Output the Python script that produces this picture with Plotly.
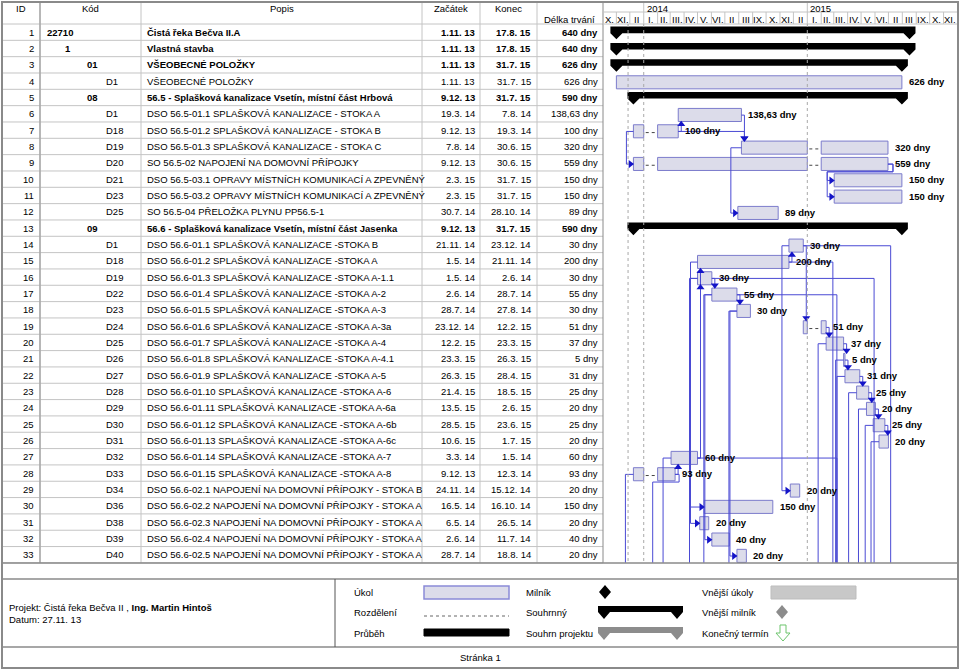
import pandas as pd
import plotly.graph_objects as go

W, H = 960, 669
ROW_PX = 16.33          # row pitch of the table
TOP_PX = 24             # bottom of the header
X0_PX, X1_PX = 602.5, 957
T0, T1 = pd.Timestamp('2013-10-01'), pd.Timestamp('2015-12-01')
DPP = (T1 - T0).days / (X1_PX - X0_PX)   # days per pixel on the gantt
FONT = 'Liberation Sans, Arial, sans-serif'
FS = 9.5

# ---- data ----
codes = ['22710', '1', '01', 'D1', '08', 'D1', 'D18', 'D19', 'D20', 'D21', 'D23', 'D25', '09',
         'D1', 'D18', 'D19', 'D22', 'D23', 'D24', 'D25', 'D26', 'D27', 'D28', 'D29', 'D30', 'D31',
         'D32', 'D33', 'D34', 'D36', 'D38', 'D39', 'D40']
levels = [0, 1, 2, 3, 2, 3, 3, 3, 3, 3, 3, 3, 2] + [3] * 20
names = [
    'Čistá řeka Bečva II.A',
    'Vlastná stavba',
    'VŠEOBECNÉ POLOŽKY',
    'VŠEOBECNÉ POLOŽKY',
    '56.5 - Splašková kanalizace Vsetín, místní část Hrbová',
    'DSO 56.5-01.1 SPLAŠKOVÁ KANALIZACE - STOKA A',
    'DSO 56.5-01.2 SPLAŠKOVÁ KANALIZACE - STOKA B',
    'DSO 56.5-01.3 SPLAŠKOVÁ KANALIZACE - STOKA C',
    'SO 56.5-02 NAPOJENÍ NA DOMOVNÍ PŘÍPOJKY',
    'DSO 56.5-03.1 OPRAVY MÍSTNÍCH KOMUNIKACÍ A ZPEVNĚNÝ',
    'DSO 56.5-03.2 OPRAVY MÍSTNÍCH KOMUNIKACÍ A ZPEVNĚNÝ',
    'SO 56.5-04 PŘELOŽKA PLYNU PP56.5-1',
    '56.6 - Splašková kanalizace Vsetín, místní část Jasenka',
    'DSO 56.6-01.1 SPLAŠKOVÁ KANALIZACE -STOKA B',
    'DSO 56.6-01.2 SPLAŠKOVÁ KANALIZACE -STOKA A',
    'DSO 56.6-01.3 SPLAŠKOVÁ KANALIZACE -STOKA A-1.1',
    'DSO 56.6-01.4 SPLAŠKOVÁ KANALIZACE -STOKA A-2',
    'DSO 56.6-01.5 SPLAŠKOVÁ KANALIZACE -STOKA A-3',
    'DSO 56.6-01.6 SPLAŠKOVÁ KANALIZACE -STOKA A-3a',
    'DSO 56.6-01.7 SPLAŠKOVÁ KANALIZACE -STOKA A-4',
    'DSO 56.6-01.8 SPLAŠKOVÁ KANALIZACE -STOKA A-4.1',
    'DSO 56.6-01.9 SPLAŠKOVÁ KANALIZACE -STOKA A-5',
    'DSO 56.6-01.10 SPLAŠKOVÁ KANALIZACE -STOKA A-6',
    'DSO 56.6-01.11 SPLAŠKOVÁ KANALIZACE -STOKA A-6a',
    'DSO 56.6-01.12 SPLAŠKOVÁ KANALIZACE -STOKA A-6b',
    'DSO 56.6-01.13 SPLAŠKOVÁ KANALIZACE -STOKA A-6c',
    'DSO 56.6-01.14 SPLAŠKOVÁ KANALIZACE -STOKA A-7',
    'DSO 56.6-01.15 SPLAŠKOVÁ KANALIZACE -STOKA A-8',
    'DSO 56.6-02.1 NAPOJENÍ NA DOMOVNÍ PŘÍPOJKY - STOKA B',
    'DSO 56.6-02.2 NAPOJENÍ NA DOMOVNÍ PŘÍPOJKY - STOKA A',
    'DSO 56.6-02.3 NAPOJENÍ NA DOMOVNÍ PŘÍPOJKY - STOKA A',
    'DSO 56.6-02.4 NAPOJENÍ NA DOMOVNÍ PŘÍPOJKY - STOKA A',
    'DSO 56.6-02.5 NAPOJENÍ NA DOMOVNÍ PŘÍPOJKY - STOKA A',
]
starts = ['1.11. 13', '1.11. 13', '1.11. 13', '1.11. 13', '9.12. 13', '19.3. 14', '9.12. 13', '7.8. 14',
          '9.12. 13', '2.3. 15', '2.3. 15', '30.7. 14', '9.12. 13', '21.11. 14', '1.5. 14', '1.5. 14',
          '2.6. 14', '28.7. 14', '23.12. 14', '12.2. 15', '23.3. 15', '26.3. 15', '21.4. 15', '13.5. 15',
          '28.5. 15', '10.6. 15', '3.3. 14', '9.12. 13', '24.11. 14', '16.5. 14', '6.5. 14', '2.6. 14',
          '28.7. 14']
ends = ['17.8. 15', '17.8. 15', '31.7. 15', '31.7. 15', '31.7. 15', '7.8. 14', '19.3. 14', '30.6. 15',
        '30.6. 15', '31.7. 15', '31.7. 15', '28.10. 14', '31.7. 15', '23.12. 14', '21.11. 14', '2.6. 14',
        '28.7. 14', '27.8. 14', '12.2. 15', '23.3. 15', '26.3. 15', '28.4. 15', '18.5. 15', '2.6. 15',
        '23.6. 15', '1.7. 15', '1.5. 14', '12.3. 14', '15.12. 14', '16.10. 14', '26.5. 14', '11.7. 14',
        '18.8. 14']
durations = ['640 dny', '640 dny', '626 dny', '626 dny', '590 dny', '138,63 dny', '100 dny', '320 dny',
             '559 dny', '150 dny', '150 dny', '89 dny', '590 dny', '30 dny', '200 dny', '30 dny', '55 dny',
             '30 dny', '51 dny', '37 dny', '5 dny', '31 dny', '25 dny', '20 dny', '25 dny', '20 dny',
             '60 dny', '93 dny', '20 dny', '150 dny', '20 dny', '40 dny', '20 dny']
summary_rows = [1, 2, 3, 5, 13]
# split tasks (winter break in January)
splits = {
    7: [('9.12. 13', '1.1. 14'), ('1.2. 14', '19.3. 14')],
    8: [('7.8. 14', '1.1. 15'), ('1.2. 15', '30.6. 15')],
    9: [('9.12. 13', '1.1. 14'), ('1.2. 14', '1.1. 15'), ('1.2. 15', '30.6. 15')],
    19: [('23.12. 14', '1.1. 15'), ('1.2. 15', '12.2. 15')],
    28: [('9.12. 13', '1.1. 14'), ('1.2. 14', '12.3. 14')],
}
# links: finish-start drawn straight, finish-start loop, start-start
fs_links = [(7, 6), (7, 8), (6, 8), (15, 14), (27, 15), (27, 16), (16, 17), (17, 18), (28, 27),
            (14, 19), (19, 20), (20, 21), (21, 22), (22, 23), (23, 24), (24, 25), (25, 26)]
fs_loop_links = [(9, 10), (9, 11)]
ss_links = [(7, 9), (8, 12), (14, 29), (15, 30), (16, 31), (17, 32), (18, 33)]
# links to tasks on the next page
ss_off_rows = [16, 17, 18, 20, 21, 22, 23, 24, 25, 26, 27, 28]
fs_off_links = [(14, '6.7. 15'), (15, '27.2. 15'), (16, '30.5. 15'), (17, '8.3. 15'), (27, '8.3. 15')]
fs_loop_off_links = [(28, '21.1. 14')]

month_labels = ['X.', 'XI.', 'II', 'I.', 'II.', 'III.', 'IV.', 'V.', 'VI.', 'II', 'III', 'IX.', 'X.',
                'XI.', 'II', 'I.', 'II.', 'III.', 'IV.', 'V.', 'VI.', 'II', 'III', 'IX.', 'X.', 'XI.']
years = ['2014', '2015']


def d(s):
    day, mon, yr = s.replace(' ', '').split('.')
    return pd.Timestamp(2000 + int(yr), int(mon), int(day))


def sh(t, p):
    return t + pd.Timedelta(days=p * DPP)


def iso(t):
    return t.strftime('%Y-%m-%d %H:%M')


def r_of(y):
    return (y - TOP_PX) / ROW_PX + 0.5


def PX(x):
    return x / W


def PY(y):
    return 1 - y / H


fig = go.Figure()
shapes = []
ann = []

TASK_FILL, TASK_LINE = '#dcdcea', '#7c7ccc'
LINK, ARROW = '#4a4ad4', '#1414c8'
GRID, FRAME = '#c4c4c4', '#8a8a8a'


def text(x, y, s, anchor='left', size=FS, bold=False, xref='paper', yref='y', yanchor='middle',
         xshift=0, color='black'):
    ann.append(dict(x=x, y=y, xref=xref, yref=yref, text=f'<b>{s}</b>' if bold else s, showarrow=False,
                    xanchor=anchor, yanchor=yanchor, xshift=xshift,
                    font=dict(family=FONT, size=size, color=color)))


def hline(x0, x1, y, color=GRID, width=1, yref='y'):
    shapes.append(dict(type='line', xref='paper', yref=yref, x0=PX(x0), x1=PX(x1), y0=y, y1=y,
                       line=dict(color=color, width=width)))


def vline(x, y0, y1, color=GRID, width=1, yref='y'):
    shapes.append(dict(type='line', xref='paper', yref=yref, x0=PX(x), x1=PX(x), y0=y0, y1=y1,
                       line=dict(color=color, width=width)))


# ---- table ----
n = len(names)
col_x = [2, 40, 141, 422, 480, 537, 603]
top = r_of(2)
bottom = n + 0.5
for k in range(n + 1):
    hline(2, 603, k + 0.5)
for x in col_x[1:-1]:
    vline(x, top, bottom)
vline(40, top, bottom, color='#a8a8a8', width=1.5)
vline(603, top, bottom, color=FRAME)

text(PX(21), r_of(8), 'ID', anchor='center')
text(PX(90), r_of(8), 'Kód', anchor='center')
text(PX(282), r_of(8), 'Popis', anchor='center')
text(PX(451), r_of(8), 'Začátek', anchor='center')
text(PX(508), r_of(8), 'Konec', anchor='center')
text(PX(569), r_of(19), 'Délka trvání', anchor='center')

code_x = {0: 45, 1: 63, 2: 85, 3: 104}
for i in range(n):
    r = i + 1
    b = r in summary_rows
    text(PX(36), r, str(r), anchor='right')
    text(PX(code_x[levels[i]]), r, codes[i], bold=b)
    text(PX(145), r, names[i], bold=b)
    text(PX(477), r, starts[i], anchor='right', bold=b)
    text(PX(533), r, ends[i], anchor='right', bold=b)
    text(PX(600), r, durations[i], anchor='right', bold=b)

# ---- gantt header ----
hline(603, 958, r_of(12))
hline(603, 958, 0.5)
months = pd.date_range(T0, T1, freq='MS')
for k, m in enumerate(months[:-1]):
    shapes.append(dict(type='line', xref='x', yref='y', x0=iso(m), x1=iso(m), y0=r_of(12), y1=0.5,
                       line=dict(color=GRID, width=1)))
    mid = m + (months[k + 1] - m) / 2
    text(iso(mid), r_of(19), month_labels[k], anchor='center', xref='x')
for yr in years:
    t = pd.Timestamp(f'{yr}-01-01')
    shapes.append(dict(type='line', xref='x', yref='y', x0=iso(t), x1=iso(t), y0=top, y1=r_of(12),
                       line=dict(color=GRID, width=1)))
    text(iso(t), r_of(8), yr, xref='x', xshift=1)

# dotted lines: status date and year starts
for t in ['2013-11-27', '2014-01-01', '2015-01-01']:
    shapes.append(dict(type='line', xref='x', yref='y', x0=t, x1=t, y0=0.5, y1=bottom, layer='above',
                       line=dict(color='#a8a8a8', width=1, dash='dot')))

# ---- summary bars ----
for r in summary_rows:
    s, e = d(starts[r - 1]), d(ends[r - 1])
    yt, yb, yp = r - 0.34, r + 0.06, r + 0.43
    xs = [sh(s, -6), sh(e, 6), sh(e, 6), e, sh(e, -6), sh(s, 6), s, sh(s, -6), sh(s, -6)]
    ys = [yt, yt, yb, yp, yb, yb, yp, yb, yt]
    fig.add_trace(go.Scatter(x=[iso(t) for t in xs], y=ys, mode='lines', fill='toself',
                             fillcolor='black', line=dict(width=0, color='black'), hoverinfo='skip'))

# ---- task bars ----
dot_x, dot_y = [], []
for i in range(n):
    r = i + 1
    if r in summary_rows:
        continue
    segs = splits.get(r, [(starts[i], ends[i])])
    for j, (a, b) in enumerate(segs):
        s, e = d(a), d(b)
        fig.add_trace(go.Scatter(x=[iso(s), iso(e), iso(e), iso(s), iso(s)],
                                 y=[r - 0.33, r - 0.33, r + 0.47, r + 0.47, r - 0.33],
                                 mode='lines', fill='toself', fillcolor=TASK_FILL,
                                 line=dict(color=TASK_LINE, width=1), hoverinfo='skip'))
        if j + 1 < len(segs):
            dot_x += [iso(sh(e, 2)), iso(sh(d(segs[j + 1][0]), -2)), None]
            dot_y += [r + 0.15, r + 0.15, None]
    text(iso(d(ends[i])), r + 0.05, durations[i], xref='x', xshift=5, bold=True)

fig.add_trace(go.Scatter(x=dot_x, y=dot_y, mode='lines', line=dict(color='#444444', width=1, dash='dot'),
                         hoverinfo='skip'))

# ---- links ----
lx, ly = [], []
arrows = {'triangle-down': ([], []), 'triangle-up': ([], []), 'triangle-right': ([], [])}


def path(pts):
    for t, y in pts:
        lx.append(iso(t))
        ly.append(y)
    lx.append(None)
    ly.append(None)


def arrow(sym, t, y):
    arrows[sym][0].append(iso(t))
    arrows[sym][1].append(y)


yc = 0.08
for p, s in fs_links:
    pe, ss = d(ends[p - 1]), d(starts[s - 1])
    x = sh(max(pe, ss), 3)
    if s > p:
        edge = s - 0.33
        path([(pe, p + yc), (x, p + yc), (x, edge)])
        arrow('triangle-down', x, edge - 0.17)
    else:
        edge = s + 0.47
        path([(pe, p + yc), (x, p + yc), (x, edge)])
        arrow('triangle-up', x, edge + 0.17)
for p, s in fs_loop_links:
    pe, ss = d(ends[p - 1]), d(starts[s - 1])
    path([(pe, p + yc), (sh(pe, 5), p + yc), (sh(pe, 5), p + 0.55), (sh(ss, -7), p + 0.55),
          (sh(ss, -7), s + yc), (ss, s + yc)])
    arrow('triangle-right', sh(ss, -3), s + yc)
for p, s in ss_links:
    sp, ss = d(starts[p - 1]), d(starts[s - 1])
    x = sh(min(sp, ss), -7)
    path([(sp, p + yc), (x, p + yc), (x, s + yc), (ss, s + yc)])
    arrow('triangle-right', sh(ss, -3), s + yc)
for p in ss_off_rows:
    sp = d(starts[p - 1])
    path([(sp, p + yc), (sh(sp, -8), p + yc), (sh(sp, -8), bottom)])
for p, t in fs_off_links:
    pe = d(ends[p - 1])
    path([(pe, p + yc), (d(t), p + yc), (d(t), bottom)])
for p, t in fs_loop_off_links:
    pe = d(ends[p - 1])
    path([(pe, p + yc), (sh(pe, 4), p + yc), (sh(pe, 4), p + 0.55), (d(t), p + 0.55), (d(t), bottom)])

fig.add_trace(go.Scatter(x=lx, y=ly, mode='lines', line=dict(color=LINK, width=1), hoverinfo='skip'))
for sym, (ax, ay) in arrows.items():
    fig.add_trace(go.Scatter(x=ax, y=ay, mode='markers', hoverinfo='skip',
                             marker=dict(symbol=sym, size=7, color=ARROW, line=dict(width=0))))

# ---- outer frame and footer ----
shapes.append(dict(type='rect', xref='paper', yref='paper', x0=PX(2), x1=PX(958), y0=PY(668), y1=PY(2),
                   line=dict(color=FRAME, width=2)))
shapes.append(dict(type='line', xref='paper', yref='y', x0=PX(2), x1=PX(958), y0=bottom, y1=bottom,
                   line=dict(color=FRAME, width=1.5)))
shapes.append(dict(type='line', xref='paper', yref='paper', x0=PX(2), x1=PX(958), y0=PY(579), y1=PY(579),
                   line=dict(color=FRAME, width=1.5)))
shapes.append(dict(type='line', xref='paper', yref='paper', x0=PX(2), x1=PX(958), y0=PY(647), y1=PY(647),
                   line=dict(color=FRAME, width=1.5)))
shapes.append(dict(type='line', xref='paper', yref='paper', x0=PX(335), x1=PX(335), y0=PY(579), y1=PY(647),
                   line=dict(color='#555555', width=1)))

text(PX(7), PY(607), 'Projekt: Čistá řeka Bečva II , <b>Ing. Martin Hintoš</b>', yref='paper')
text(PX(7), PY(619), 'Datum: 27.11. 13', yref='paper')
text(PX(480), PY(657), 'Stránka 1', anchor='center', yref='paper')

legend_labels = ['Úkol', 'Rozdělení', 'Průběh', 'Milník', 'Souhrnný', 'Souhrn projektu',
                 'Vnější úkoly', 'Vnější milník', 'Konečný termín']
leg_cols = [352, 524, 700]
leg_rows = [592, 612, 633]
for k, lab in enumerate(legend_labels):
    text(PX(leg_cols[k // 3]), PY(leg_rows[k % 3]), lab, yref='paper')


def ppath(pts):
    return 'M ' + ' L '.join(f'{PX(x):.5f},{PY(y):.5f}' for x, y in pts) + ' Z'


def prect(x0, x1, y0, y1, fill, line, lw=1):
    shapes.append(dict(type='rect', xref='paper', yref='paper', x0=PX(x0), x1=PX(x1), y0=PY(y1), y1=PY(y0),
                       fillcolor=fill, line=dict(color=line, width=lw)))


def summary_shape(x0, x1, yt, yb, yp, color):
    pts = [(x0, yt), (x1, yt), (x1, yb), (x1 - 6, yp), (x1 - 12, yb), (x0 + 12, yb), (x0 + 6, yp), (x0, yb)]
    shapes.append(dict(type='path', xref='paper', yref='paper', path=ppath(pts), fillcolor=color,
                       line=dict(width=0)))


prect(424, 509, 586, 599, TASK_FILL, '#8a8ad8', 1.5)
shapes.append(dict(type='line', xref='paper', yref='paper', x0=PX(424), x1=PX(509), y0=PY(616), y1=PY(616),
                   line=dict(color='#666666', width=1, dash='dot')))
prect(424, 509, 629, 636, 'black', 'black')
shapes.append(dict(type='path', xref='paper', yref='paper', fillcolor='black', line=dict(width=0),
                   path=ppath([(605, 585), (611, 592), (605, 599), (599, 592)])))
summary_shape(598, 683, 606, 612, 619, 'black')
summary_shape(598, 683, 627, 633, 640, '#8c8c8c')
prect(771, 856, 586, 599, '#c8c8c8', '#bdbdbd')
shapes.append(dict(type='path', xref='paper', yref='paper', fillcolor='#8c8c8c', line=dict(width=0),
                   path=ppath([(782, 605), (788, 612), (782, 619), (776, 612)])))
shapes.append(dict(type='path', xref='paper', yref='paper', fillcolor='rgba(0,0,0,0)',
                   line=dict(color='#6cc46c', width=1),
                   path=ppath([(780, 625), (786, 625), (786, 633), (790, 633), (783, 641), (776, 633), (780, 633)])))

fig.update_layout(
    width=W, height=H, margin=dict(l=0, r=0, t=0, b=0),
    paper_bgcolor='white', plot_bgcolor='rgba(0,0,0,0)', showlegend=False,
    xaxis=dict(type='date', range=[iso(T0), iso(T1)], domain=[PX(X0_PX), PX(X1_PX)],
               showgrid=False, zeroline=False, showticklabels=False, showline=False, fixedrange=True),
    yaxis=dict(range=[r_of(H), r_of(0)], showgrid=False, zeroline=False, showticklabels=False,
               showline=False, fixedrange=True),
    shapes=shapes, annotations=ann,
)

fig.write_html("out.html", config={'displayModeBar': False},
               post_script="document.body.style.margin='0';")
